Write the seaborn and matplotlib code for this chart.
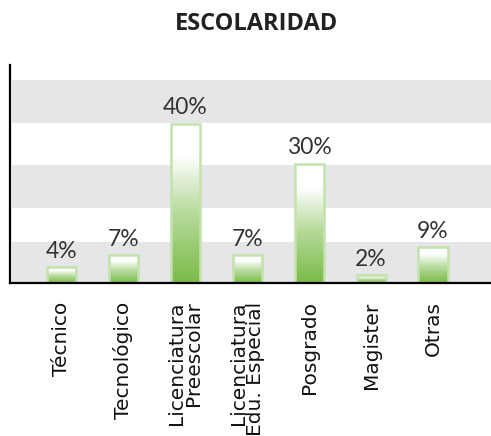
import numpy as np
import pandas as pd
import seaborn as sns
import matplotlib.pyplot as plt
from matplotlib.colors import LinearSegmentedColormap

# Data
categorias = ['Técnico', 'Tecnológico', 'Licenciatura\nPreescolar',
              'Licenciatura\nEdu. Especial', 'Posgrado', 'Magister', 'Otras']
porcentajes = [4, 7, 40, 7, 30, 2, 9]
etiquetas = ['4%', '7%', '40%', '7%', '30%', '2%', '9%']

# gray background bands (in % units)
bandas = [(0, 10.45), (18.95, 29.6), (40.2, 50.9)]

df = pd.DataFrame({'cat': categorias, 'val': porcentajes})

sns.set_style('white')
plt.rcParams['font.family'] = ['DejaVu Sans']

fig = plt.figure(figsize=(4.91, 4.36), dpi=100)
ax = fig.add_axes([0.0204, 0.35, 0.98, 0.5])

for lo, hi in bandas:
    ax.axhspan(lo, hi, xmin=0.004, color='#e5e6e7', lw=0, zorder=0)

sns.barplot(data=df, x='cat', y='val', ax=ax, width=0.47,
            facecolor='none', edgecolor='#c3e2ad', linewidth=1.8, zorder=3)
barras = list(ax.containers[0])

# gradient fill inside each bar: white on top, green at bottom
cmap = LinearSegmentedColormap.from_list(
    'g', [(0, '#7abb48'), (0.45, '#b8db9e'), (0.8, '#ffffff'), (1, '#ffffff')])
grad = np.linspace(0, 1, 256).reshape(-1, 1)
for p in barras:
    x, y = p.get_x(), p.get_y()
    w, h = p.get_width(), p.get_height()
    ax.imshow(grad, extent=[x, x + w, y, y + h], origin='lower',
              aspect='auto', cmap=cmap, zorder=2)

ax.set_xlim(-0.83, 6.94)
ax.set_ylim(0, 54.6)

for p, t in zip(barras, etiquetas):
    ax.annotate(t, (p.get_x() + p.get_width() / 2, p.get_height()),
                xytext=(0, 4), textcoords='offset points',
                ha='center', va='bottom', fontsize=16.5,
                family=['Lato', 'DejaVu Sans'], color='#333333')

ax.set_xlabel('')
ax.set_ylabel('')
ax.set_yticks([])
ax.tick_params(axis='x', length=0, pad=13)
for lbl in ax.get_xticklabels():
    lbl.set_rotation(90)
    lbl.set_fontsize(14.5)
    lbl.set_multialignment('right')
    lbl.set_linespacing(0.85)
    lbl.set_color('#111111')

for s in ['top', 'right']:
    ax.spines[s].set_visible(False)
for s in ['left', 'bottom']:
    ax.spines[s].set_color('black')
    ax.spines[s].set_linewidth(1.6)
    ax.spines[s].set_zorder(5)

fig.text(0.523, 0.945, 'ESCOLARIDAD', ha='center', va='center',
         fontsize=17, fontweight='bold', family=['Open Sans', 'DejaVu Sans'],
         color='#222222')

fig.savefig('out.png', dpi=100)
plt.close()
